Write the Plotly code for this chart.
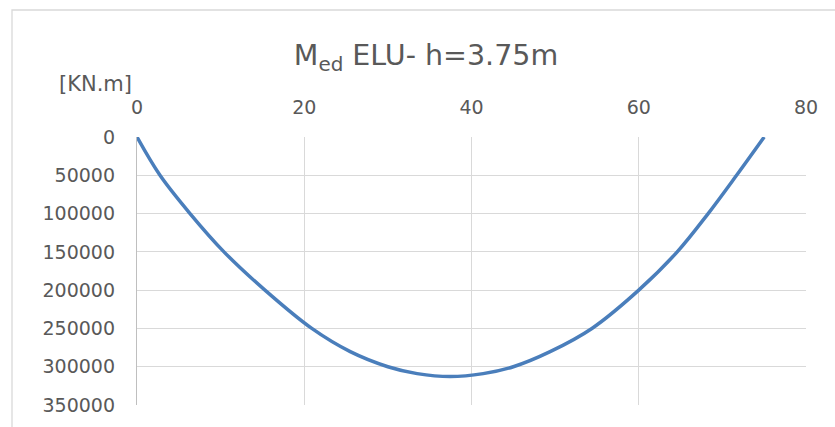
import plotly.graph_objects as go

# Data
x_pos = [0, 2.75, 6.34, 10.4, 15.3, 20.9, 25.5, 30.0, 33.5, 37.45, 41.4, 45.0, 49.4, 54.4, 60.0, 64.6, 68.3, 71.7, 75]
moment = [0, 50000, 100000, 150000, 200000, 250000, 280300, 300000, 309000, 312900, 309000, 300000, 280300, 250000, 200000, 150000, 100000, 50000, 0]

x_ticks = [0, 20, 40, 60, 80]
y_ticks = [0, 50000, 100000, 150000, 200000, 250000, 300000, 350000]

TXT = "#595959"
GRID = "#d9d9d9"
FONT = "'DejaVu Sans', sans-serif"

fig = go.Figure()
fig.add_trace(go.Scatter(
    x=x_pos, y=moment, mode="lines",
    line=dict(color="#4a7ebb", width=3.5, shape="spline", smoothing=1.0),
    showlegend=False, hoverinfo="x+y",
))

L, R, T, B = 137, 29, 137, 22
W, H = 835, 427
pw, ph = W - L - R, H - T - B

fig.update_layout(
    width=W, height=H,
    margin=dict(l=L, r=R, t=T, b=B, pad=0),
    paper_bgcolor="white", plot_bgcolor="white",
    font=dict(family=FONT, color=TXT, size=19),
    title=dict(
        text="M<sub>ed</sub> ELU- h=3.75m",
        x=(426 - L) / pw, xanchor="center", xref="paper",
        y=1 - 55 / H, yanchor="middle", yref="container",
        font=dict(size=28.5, color=TXT, family=FONT),
    ),
    xaxis=dict(
        side="top", range=[0, 80], tickvals=x_ticks,
        showgrid=True, gridcolor=GRID, gridwidth=1.3,
        zeroline=False, showline=False, ticks="",
        ticklabelstandoff=18, tickfont=dict(size=19, color=TXT, family=FONT),
    ),
    yaxis=dict(
        range=[350000, 0], tickvals=y_ticks, tickformat="d",
        showgrid=True, gridcolor=GRID, gridwidth=1.3,
        zeroline=False, showline=True, linecolor="#bfbfbf", linewidth=1.3,
        ticks="", ticklabelstandoff=17, tickfont=dict(size=19, color=TXT, family=FONT),
    ),
    annotations=[dict(
        text="[KN.m]", xref="paper", yref="paper",
        x=(95.5 - L) / pw, y=1 + (T - 84) / ph,
        xanchor="center", yanchor="middle", showarrow=False,
        font=dict(size=21, color=TXT, family=FONT),
    )],
    shapes=[dict(
        type="rect", xref="paper", yref="paper",
        x0=(12 - L) / pw, x1=(W + 5 - L) / pw,
        y0=-(B + 5) / ph, y1=1 + (T - 10) / ph,
        line=dict(color="#d9d9d9", width=1.3), fillcolor="rgba(0,0,0,0)",
        layer="below",
    )],
)

fig.write_html("out.html")
